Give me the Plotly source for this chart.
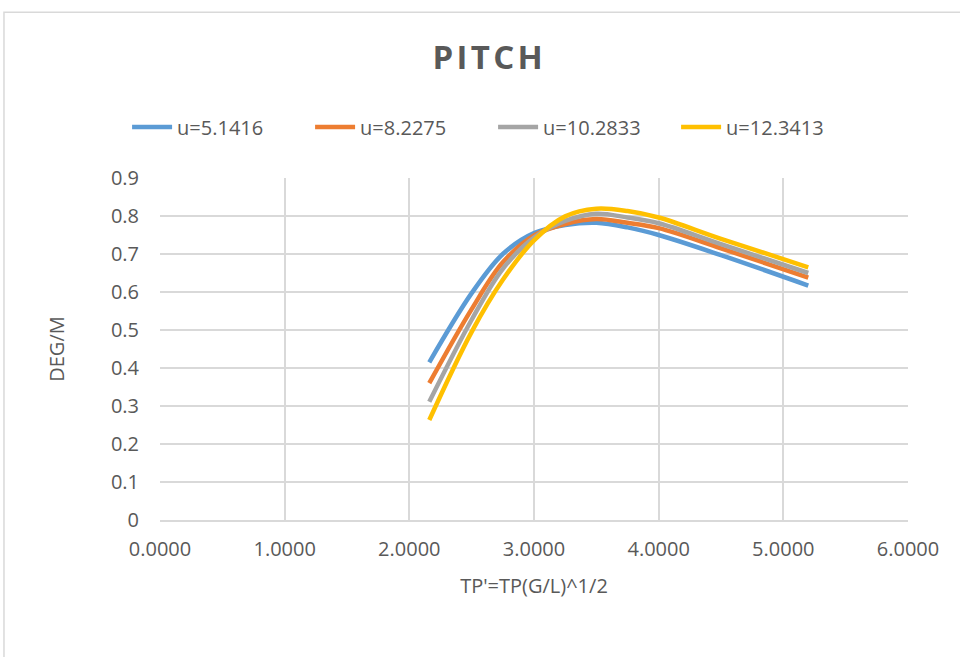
import plotly.graph_objects as go

x_vals = [2.16, 2.5, 2.75, 3.0, 3.25, 3.5, 3.75, 4.0, 4.5, 5.2]
u_5_1416 = [0.415, 0.597, 0.700, 0.755, 0.776, 0.782, 0.770, 0.750, 0.697, 0.617]
u_8_2275 = [0.360, 0.555, 0.678, 0.749, 0.779, 0.792, 0.782, 0.768, 0.715, 0.638]
u_10_2833 = [0.311, 0.527, 0.661, 0.743, 0.787, 0.806, 0.796, 0.781, 0.726, 0.650]
u_12_3413 = [0.263, 0.495, 0.632, 0.736, 0.799, 0.819, 0.813, 0.796, 0.740, 0.665]

series = [
    ("u=5.1416", u_5_1416, "#5B9BD5"),
    ("u=8.2275", u_8_2275, "#ED7D31"),
    ("u=10.2833", u_10_2833, "#A5A5A5"),
    ("u=12.3413", u_12_3413, "#FFC000"),
]

x_ticks = [0, 1, 2, 3, 4, 5, 6]
x_tick_labels = ["0.0000", "1.0000", "2.0000", "3.0000", "4.0000", "5.0000", "6.0000"]
y_ticks = [0, 0.1, 0.2, 0.3, 0.4, 0.5, 0.6, 0.7, 0.8, 0.9]
y_tick_labels = ["0", "0.1", "0.2", "0.3", "0.4", "0.5", "0.6", "0.7", "0.8", "0.9"]

FONT = "Open Sans"
TXT = "#595959"
GRID = "#D9D9D9"
FS = 20

fig = go.Figure()
for name, ys, color in series:
    fig.add_trace(go.Scatter(
        x=x_vals, y=ys, name=name, mode="lines",
        line=dict(color=color, width=4.5, shape="spline", smoothing=1.0),
    ))

fig.update_layout(
    width=960, height=657,
    paper_bgcolor="white", plot_bgcolor="white",
    margin=dict(l=160, r=52, t=178, b=137, autoexpand=False),
    font=dict(family=FONT, size=FS, color=TXT),
    title=dict(text="<b>P I T C H</b>".replace(" ", "\u200a"), x=0.508, xanchor="center", y=0.912,
               yanchor="middle", font=dict(family=FONT, size=33, color=TXT)),
    legend=dict(orientation="h", x=-0.044, xanchor="left", y=1.149,
                yanchor="middle", font=dict(family=FONT, size=FS, color=TXT),
                itemwidth=40, entrywidth=128, entrywidthmode="pixels", traceorder="normal"),
    showlegend=True,
    shapes=[dict(type="rect", xref="paper", yref="paper", x0=-0.2086, x1=1.3,
                 y0=-0.6, y1=1.485, line=dict(color=GRID, width=1.5), fillcolor="rgba(0,0,0,0)",
                 layer="below")],
)

fig.update_xaxes(
    range=[0, 6], tickvals=x_ticks, ticktext=x_tick_labels, tickangle=0,
    showgrid=True, gridcolor=GRID, gridwidth=1.5,
    showline=True, linecolor=GRID, linewidth=1.5, zeroline=False,
    ticks="", ticklabelstandoff=10,
    title=dict(text="TP'=TP(G/L)^1/2", font=dict(family=FONT, size=FS, color=TXT), standoff=18),
)
fig.update_yaxes(
    range=[0, 0.9], tickvals=y_ticks, ticktext=y_tick_labels,
    showgrid=True, gridcolor=GRID, gridwidth=1.5,
    showline=False, zeroline=False,
    ticks="", ticklabelstandoff=20,
    title=dict(text="DEG/M", font=dict(family=FONT, size=FS, color=TXT), standoff=40),
)

fig.write_html("out.html")
